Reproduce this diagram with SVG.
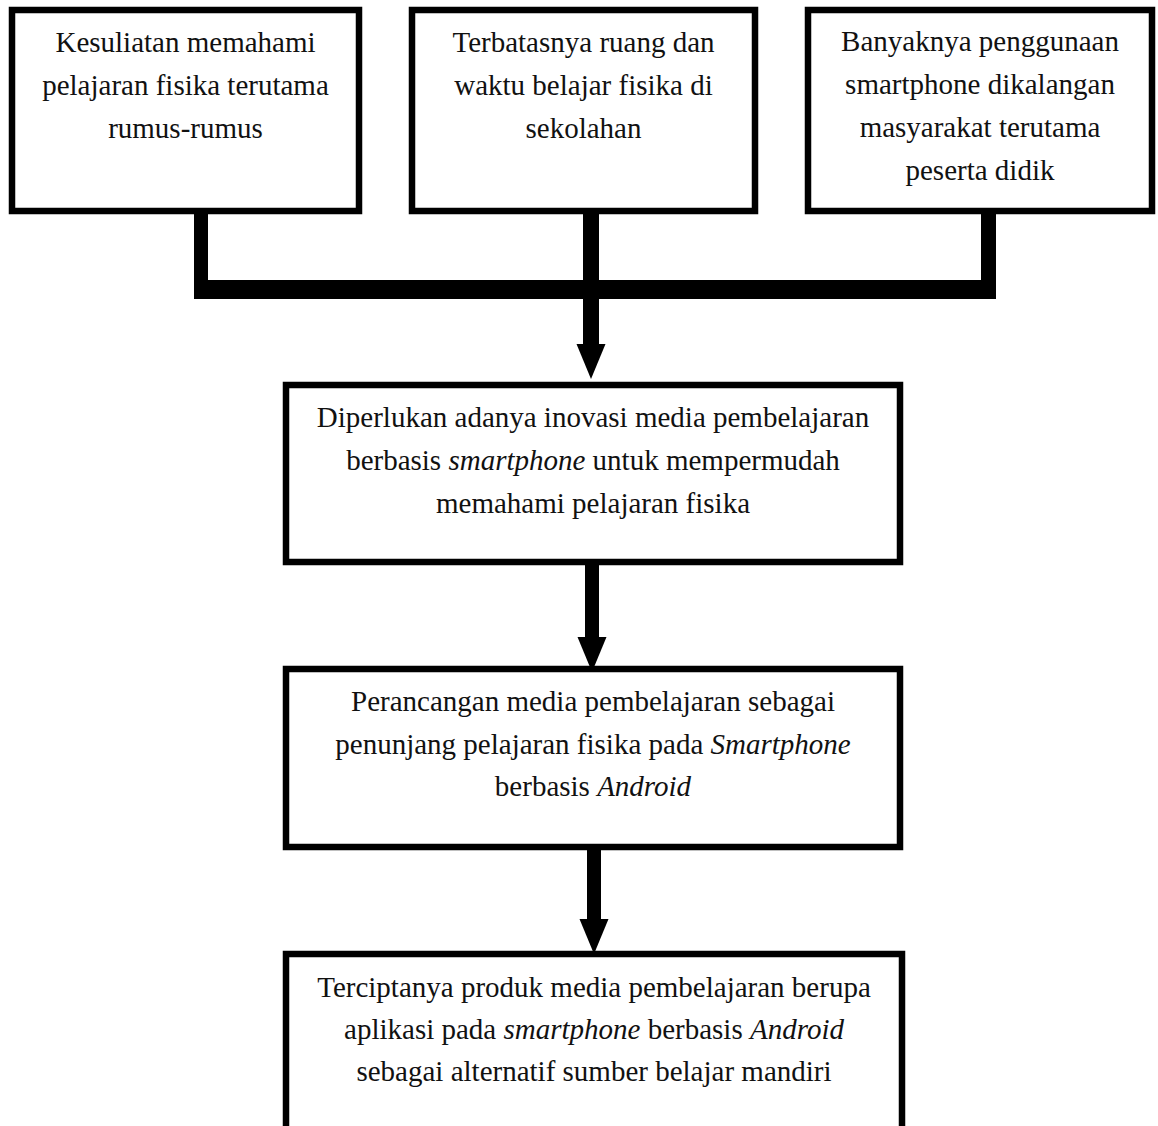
<svg xmlns="http://www.w3.org/2000/svg" xmlns:xlink="http://www.w3.org/1999/xlink" width="1158" height="1126" viewBox="0 0 1158 1126">
<style>
.box{fill:#fff;stroke:#000;stroke-width:6.5}
.t{font-family:"Liberation Serif","Times New Roman",serif;font-size:29px;fill:#111;text-anchor:middle}
.i{font-style:italic}
.ln{fill:#000}
</style>
<defs>
<polygon id="ah" points="-14.5,0 14.5,0 0,35"/>
</defs>
<rect width="1158" height="1126" fill="#fff"/>
<g id="connectors">
<rect class="ln" x="194" y="211" width="14" height="88"/>
<rect class="ln" x="583" y="211" width="16" height="134"/>
<rect class="ln" x="981" y="211" width="15" height="88"/>
<rect class="ln" x="194" y="280" width="802" height="19"/>
<use xlink:href="#ah" x="591" y="344"/>
<rect class="ln" x="585" y="562" width="14" height="77"/>
<use xlink:href="#ah" x="592" y="637"/>
<rect class="ln" x="587" y="847" width="14" height="74"/>
<use xlink:href="#ah" x="594" y="919"/>
</g>
<g id="n1">
<rect class="box" x="12" y="10" width="347" height="201"/>
<text class="t" x="185.5" y="52">Kesuliatan memahami</text>
<text class="t" x="185.5" y="95">pelajaran fisika terutama</text>
<text class="t" x="185.5" y="138">rumus-rumus</text>
</g>
<g id="n2">
<rect class="box" x="412" y="10" width="343" height="201"/>
<text class="t" x="583.5" y="52">Terbatasnya ruang dan</text>
<text class="t" x="583.5" y="95">waktu belajar fisika di</text>
<text class="t" x="583.5" y="138">sekolahan</text>
</g>
<g id="n3">
<rect class="box" x="808" y="10" width="344" height="201"/>
<text class="t" x="980" y="51">Banyaknya penggunaan</text>
<text class="t" x="980" y="94">smartphone dikalangan</text>
<text class="t" x="980" y="137">masyarakat terutama</text>
<text class="t" x="980" y="180">peserta didik</text>
</g>
<g id="n4">
<rect class="box" x="286" y="385" width="614" height="177"/>
<text class="t" x="593" y="427">Diperlukan adanya inovasi media pembelajaran</text>
<text class="t" x="593" y="470">berbasis <tspan class="i">smartphone</tspan> untuk mempermudah</text>
<text class="t" x="593" y="513">memahami pelajaran fisika</text>
</g>
<g id="n5">
<rect class="box" x="286" y="669" width="614" height="178"/>
<text class="t" x="593" y="711">Perancangan media pembelajaran sebagai</text>
<text class="t" x="593" y="754">penunjang pelajaran fisika pada <tspan class="i">Smartphone</tspan></text>
<text class="t" x="593" y="796">berbasis <tspan class="i">Android</tspan></text>
</g>
<g id="n6">
<rect class="box" x="286" y="954" width="616" height="200"/>
<text class="t" x="594" y="997">Terciptanya produk media pembelajaran berupa</text>
<text class="t" x="594" y="1039">aplikasi pada <tspan class="i">smartphone</tspan> berbasis <tspan class="i">Android</tspan></text>
<text class="t" x="594" y="1081">sebagai alternatif sumber belajar mandiri</text>
</g>
</svg>
